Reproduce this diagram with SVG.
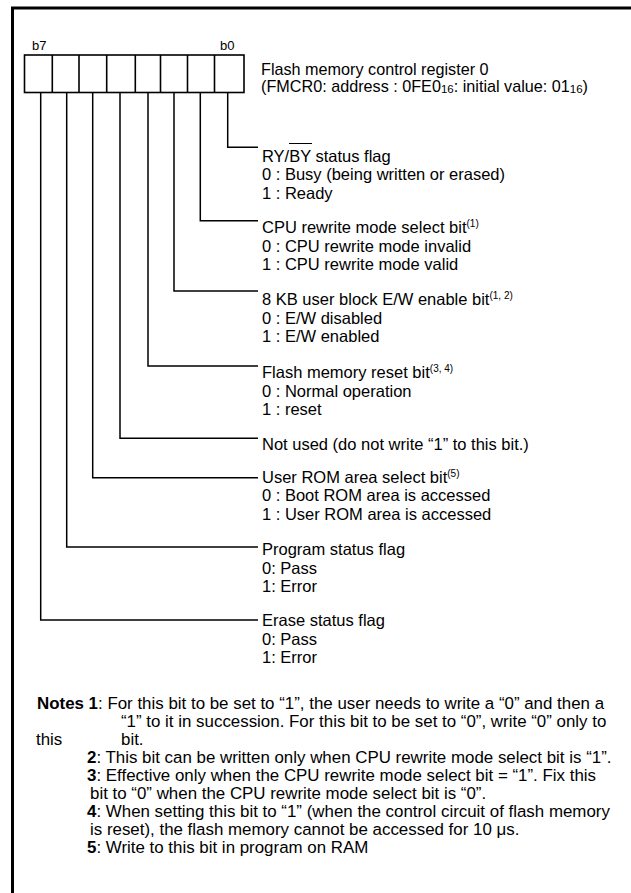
<svg xmlns="http://www.w3.org/2000/svg" width="631" height="893" viewBox="0 0 631 893">
<style>
text{font-family:"Liberation Sans",Arial,sans-serif;font-size:16.5px;fill:#000}
.t{font-size:16.2px}
.n{font-size:16.9px}
.lbl{font-size:13px}
.sup{font-size:10px}
.sub{font-size:11.5px}
.b{font-weight:bold}
.frame{stroke:#000;stroke-width:3;fill:none}
.reg{stroke:#000;stroke-width:1.6;fill:#fff}
.con{stroke:#000;stroke-width:1.5;fill:none}
</style>
<rect width="631" height="893" fill="#fff"/>
<g id="frame">
<path class="frame" d="M11 8H631M12.5 6.5V893"/>
</g>
<g id="register">
<rect class="reg" x="24.5" y="55" width="219.5" height="37.5"/>
<path class="reg" d="M52.3 55V92.5M79 55V92.5M106.7 55V92.5M135.3 55V92.5M160.5 55V92.5M187.5 55V92.5M214.5 55V92.5"/>
<text class="lbl" x="32" y="50">b7</text>
<text class="lbl" x="220" y="50">b0</text>
</g>
<g id="title">
<text class="t" x="261" y="75">Flash memory control register 0</text>
<text class="t" x="261" y="92">(FMCR0: address : 0FE0<tspan class="sub" dy="1">16</tspan><tspan dy="-1">: initial value: 01</tspan><tspan class="sub" dy="1">16</tspan><tspan dy="-1">)</tspan></text>
</g>
<g id="connectors">
<path class="con" d="M227.7 92.5V147.3H258"/>
<path class="con" d="M200.3 92.5V220.7H258"/>
<path class="con" d="M174 92.5V291H258"/>
<path class="con" d="M148 92.5V366H258"/>
<path class="con" d="M120 92.5V438.3H258"/>
<path class="con" d="M92.7 92.5V477.7H258"/>
<path class="con" d="M66.7 92.5V547H258"/>
<path class="con" d="M40.7 92.5V620H258"/>
</g>
<g id="bit0">
<text x="262" y="161.5">RY/BY status flag</text>
<path d="M289 143.5H312" stroke="#000" stroke-width="1"/>
<text x="262" y="180">0 : Busy (being written or erased)</text>
<text x="262" y="198.5">1 : Ready</text>
</g>
<g id="bit1">
<text x="262" y="233">CPU rewrite mode select bit<tspan class="sup" dy="-6">(1)</tspan></text>
<text x="262" y="251.5">0 : CPU rewrite mode invalid</text>
<text x="262" y="270">1 : CPU rewrite mode valid</text>
</g>
<g id="bit2">
<text x="262" y="305">8 KB user block E/W enable bit<tspan class="sup" dy="-6">(1, 2)</tspan></text>
<text x="262" y="323.5">0 : E/W disabled</text>
<text x="262" y="342">1 : E/W enabled</text>
</g>
<g id="bit3">
<text x="262" y="378">Flash memory reset bit<tspan class="sup" dy="-6">(3, 4)</tspan></text>
<text x="262" y="396.5">0 : Normal operation</text>
<text x="262" y="415">1 : reset</text>
</g>
<g id="bit4">
<text x="262" y="449.5">Not used (do not write “1” to this bit.)</text>
</g>
<g id="bit5">
<text x="262" y="482.5">User ROM area select bit<tspan class="sup" dy="-6">(5)</tspan></text>
<text x="262" y="501">0 : Boot ROM area is accessed</text>
<text x="262" y="519.5">1 : User ROM area is accessed</text>
</g>
<g id="bit6">
<text x="262" y="555">Program status flag</text>
<text x="262" y="573.5">0: Pass</text>
<text x="262" y="592">1: Error</text>
</g>
<g id="bit7">
<text x="262" y="626">Erase status flag</text>
<text x="262" y="644.5">0: Pass</text>
<text x="262" y="663">1: Error</text>
</g>
<g id="notes">
<text class="n" x="37" y="709"><tspan class="b">Notes 1</tspan>: For this bit to be set to “1”, the user needs to write a “0” and then a</text>
<text class="n" x="121" y="727">“1” to it in succession. For this bit to be set to “0”, write “0” only to</text>
<text class="n" x="36" y="745">this</text>
<text class="n" x="121" y="745">bit.</text>
<text class="n" x="87" y="763"><tspan class="b">2</tspan>: This bit can be written only when CPU rewrite mode select bit is “1”.</text>
<text class="n" x="87" y="781"><tspan class="b">3</tspan>: Effective only when the CPU rewrite mode select bit = “1”. Fix this</text>
<text class="n" x="90" y="799">bit to “0” when the CPU rewrite mode select bit is “0”.</text>
<text class="n" x="87" y="817"><tspan class="b">4</tspan>: When setting this bit to “1” (when the control circuit of flash memory</text>
<text class="n" x="90" y="835">is reset), the flash memory cannot be accessed for 10 μs.</text>
<text class="n" x="87" y="853"><tspan class="b">5</tspan>: Write to this bit in program on RAM</text>
</g>
</svg>
